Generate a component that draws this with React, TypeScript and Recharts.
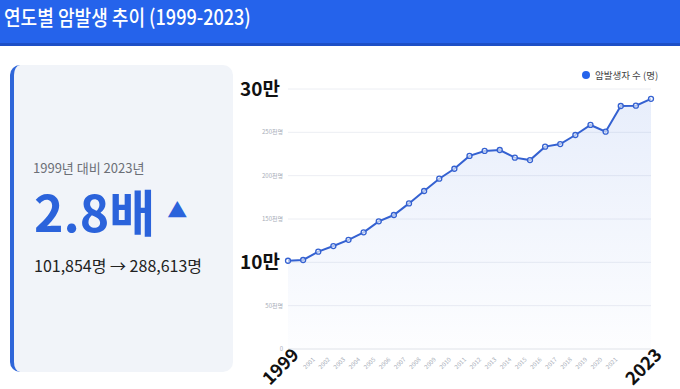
import React from 'react';
import { AreaChart, Area, XAxis, YAxis, CartesianGrid } from 'recharts';

const years = [
  1999, 2000, 2001, 2002, 2003, 2004, 2005, 2006, 2007, 2008, 2009, 2010, 2011,
  2012, 2013, 2014, 2015, 2016, 2017, 2018, 2019, 2020, 2021, 2022, 2023,
];
const cases = [
  101854, 102700, 112300, 118800, 126000, 134600, 147300, 154600, 168000, 182300,
  196500, 208000, 222800, 228500, 229600, 220800, 218000, 233500, 236500, 246900,
  258500, 250800, 280400, 280800, 288613,
];
const yTicks = [0, 50000, 100000, 150000, 200000, 250000, 300000];
const bigYLabels: Record<number, string> = { 100000: '10만', 300000: '30만' };
const bigXLabels = [1999, 2023];
const hiddenXLabels = [2000, 2022];

const data = years.map((year, i) => ({ year, cases: cases[i] }));

const FONT = '"Noto Sans CJK KR", "Noto Sans", sans-serif';
const BLUE = '#2563eb';
const LINE = '#3461d1';

function YTick({ x, y, payload }: any) {
  const v = payload.value as number;
  if (bigYLabels[v]) {
    return (
      <text x={x - 3} y={y} dy={7} textAnchor="end" fontSize={19} fontWeight={700} fill="#111" fontFamily={FONT}>
        {bigYLabels[v]}
      </text>
    );
  }
  return (
    <text x={x} y={y} dy={2} textAnchor="end" fontSize={6} fill="#a7adb8" fontFamily={FONT}>
      {v === 0 ? '0' : `${v / 1000}천명`}
    </text>
  );
}

function XTick({ x, y, payload }: any) {
  const v = payload.value as number;
  if (hiddenXLabels.includes(v)) return null;
  if (bigXLabels.includes(v)) {
    const ax = x + 12;
    const ay = y - 1;
    return (
      <text x={ax} y={ay} textAnchor="end" fontSize={18} fontWeight={700} fill="#111"
        fontFamily={FONT} transform={`rotate(-45 ${ax} ${ay})`}>
        {v}
      </text>
    );
  }
  const ax = x - 3;
  const ay = y + 3;
  return (
    <text x={ax} y={ay} textAnchor="end" fontSize={6} fill="#a7adb8"
      fontFamily={FONT} transform={`rotate(-45 ${ax} ${ay})`}>
      {v}
    </text>
  );
}

export default function App() {
  return (
    <div style={{ position: 'absolute', left: 0, top: 0, width: 680, height: 389, background: '#fff', overflow: 'hidden', fontFamily: FONT }}>
      <div style={{ position: 'absolute', left: 0, top: 0, width: 680, height: 43, background: BLUE, borderBottom: '3px solid #1d4fc6' }}>
        <div style={{ position: 'absolute', left: 4, top: 1, color: '#fff', fontSize: 21, fontWeight: 500, lineHeight: '30px', whiteSpace: 'nowrap', transform: 'scaleX(0.86)', transformOrigin: 'left center' }}>
          연도별 암발생 추이 (1999-2023)
        </div>
      </div>

      <div style={{ position: 'absolute', left: 10, top: 65, width: 219, height: 307, background: '#f1f4f9', borderRadius: 10, borderLeft: '4px solid #2f66d9' }}>
        <div style={{ position: 'absolute', left: 19, top: 94, fontSize: 13, lineHeight: '18px', color: '#6b6f76', whiteSpace: 'nowrap' }}>1999년 대비 2023년</div>
        <div style={{ position: 'absolute', left: 20, top: 117, fontSize: 50, fontWeight: 700, color: '#2b63db', lineHeight: '56px', whiteSpace: 'nowrap' }}>
          2.8배
          <span style={{ fontSize: 20, marginLeft: 12, verticalAlign: 'middle', position: 'relative', top: -8 }}>▲</span>
        </div>
        <div style={{ position: 'absolute', left: 20, top: 189, fontSize: 16, lineHeight: '22px', color: '#222', whiteSpace: 'nowrap' }}>101,854명 → 288,613명</div>
      </div>

      <div style={{ position: 'absolute', left: 582, top: 68, display: 'flex', alignItems: 'center', fontSize: 9.5, color: '#444', whiteSpace: 'nowrap' }}>
        <span style={{ width: 8, height: 8, borderRadius: 4, background: '#2563eb', marginRight: 5, display: 'inline-block' }} />
        암발생자 수 (명)
      </div>

      <div style={{ position: 'absolute', left: 235, top: 55 }}>
        <AreaChart width={445} height={334} data={data} margin={{ top: 34, right: 29, bottom: 4, left: 5 }}>
          <defs>
            <linearGradient id="areaFill" x1="0" y1="0" x2="0" y2="1">
              <stop offset="0%" stopColor="#3b6fe0" stopOpacity={0.2} />
              <stop offset="100%" stopColor="#3b6fe0" stopOpacity={0.02} />
            </linearGradient>
          </defs>
          <CartesianGrid vertical={false} stroke="#eceef3" />
          <XAxis dataKey="year" type="number" domain={[1999, 2023]} ticks={years} interval={0}
            height={36} tickLine={false} axisLine={{ stroke: '#e8eaef' }} tick={<XTick />} />
          <YAxis domain={[0, 300000]} ticks={yTicks} width={48} tickLine={false} axisLine={false}
            tickSize={0} tickMargin={5} tick={<YTick />} />
          <Area type="linear" dataKey="cases" stroke={LINE} strokeWidth={2} fill="url(#areaFill)"
            dot={{ r: 2.5, fill: '#fff', stroke: LINE, strokeWidth: 1.3 }} activeDot={false}
            isAnimationActive={false} />
        </AreaChart>
      </div>
    </div>
  );
}
